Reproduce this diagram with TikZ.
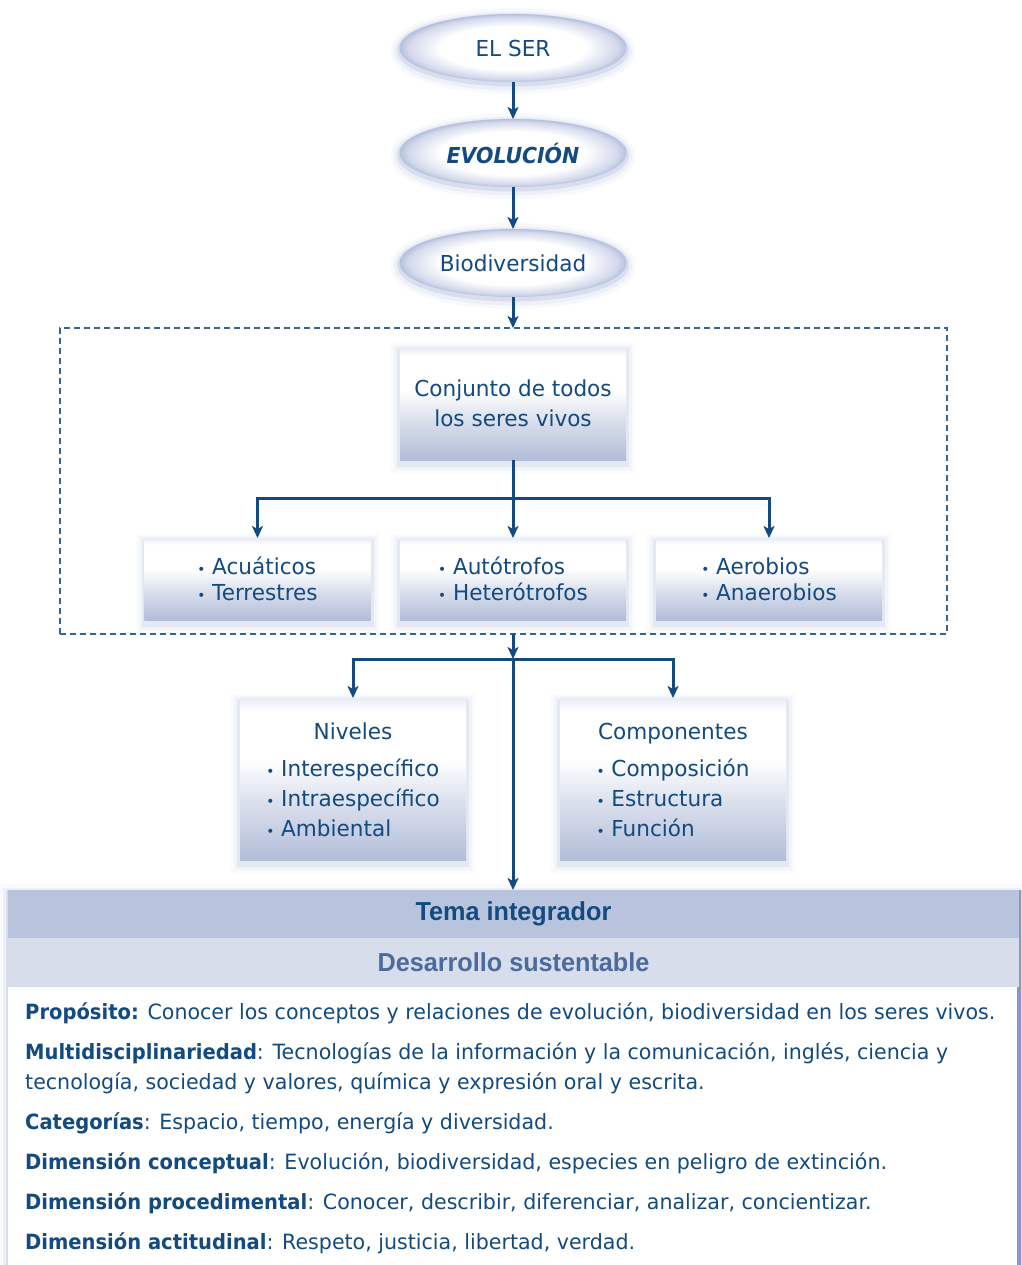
\documentclass[tikz,border=0pt]{standalone}
\usepackage{fontspec}
\setmainfont{DejaVu Sans}[UprightFeatures={FakeStretch=0.98}, BoldFeatures={FakeStretch=0.93},
  ItalicFeatures={FakeStretch=0.98}, BoldItalicFeatures={FakeStretch=0.93}]
\newfontfamily\angosta{Liberation Sans}[FakeStretch=0.97]
\usetikzlibrary{arrows.meta,shapes.geometric}

\definecolor{azul}{HTML}{134A80}
\definecolor{brillo}{HTML}{9DABD3}
\definecolor{cajaazul}{HTML}{B2BDD8}
\definecolor{franja}{HTML}{B8C4DD}
\definecolor{franjaclara}{HTML}{D7DDEB}
\definecolor{azulmedio}{HTML}{4B6B9D}
\definecolor{borde}{HTML}{8798C4}

\pgfdeclareverticalshading{cajafondo}{100bp}{color(0bp)=(cajaazul); color(25bp)=(cajaazul); color(42bp)=(cajaazul!50); color(56bp)=(white); color(71bp)=(white); color(75bp)=(cajaazul!30); color(100bp)=(cajaazul!30)}
\pgfdeclareradialshading{elipsefondo}{\pgfpoint{0bp}{0bp}}{color(0bp)=(white); color(16bp)=(white); color(23bp)=(brillo!45); color(25bp)=(brillo!75); color(50bp)=(brillo!75)}

\newcommand{\vineta}{{\fontsize{14}{14}\selectfont•}\ }

\begin{document}
\begin{tikzpicture}[x=1pt,y=-1pt,
    font=\fontsize{22}{30}\selectfont, text=azul,
    flecha/.style={-{Stealth[length=12pt,width=11pt,inset=3pt]}, draw=azul, line width=3pt},
    halo/.style={preaction={draw=brillo, line width=18pt, opacity=0.07, transform canvas={yshift=-3pt}},
                 preaction={draw=brillo, line width=11pt, opacity=0.12, transform canvas={yshift=-3pt}},
                 preaction={draw=brillo, line width=5pt, opacity=0.25, transform canvas={yshift=-2pt}}},
    sombra/.style={preaction={draw=brillo, line width=18pt, opacity=0.05, transform canvas={yshift=-4pt}},
                   preaction={draw=brillo, line width=12pt, opacity=0.08, transform canvas={yshift=-4pt}},
                   preaction={draw=brillo!80!azul, line width=6pt, opacity=0.14, transform canvas={yshift=-4pt}}},
    elipse/.style={ellipse, halo, shading=elipsefondo, minimum width=227pt, minimum height=68pt, inner sep=0pt, outer sep=0pt},
    caja/.style={rectangle, sombra, shading=cajafondo, minimum width=226pt, inner sep=0pt, outer sep=0pt},
    linea/.style={anchor=west, inner sep=0pt, font=\fontsize{21}{30}\selectfont, align=left}]
  \useasboundingbox (0,0) rectangle (1021,1265);

  \node[elipse] (ser) at (513,48) {EL SER};
  \node[elipse] (evolucion) at (513,153) {\bfseries\itshape EVOLUCIÓN};
  \node[elipse] (bio) at (513,263) {Biodiversidad};
  \draw[flecha] (ser) -- (evolucion);
  \draw[flecha] (evolucion) -- (bio);

  \node[draw=azul!85, dash pattern=on 6pt off 4pt, line width=1.2pt, minimum width=887pt,
        minimum height=306pt, inner sep=0pt, outer sep=0pt] (grupo) at (503.5,481) {};
  \draw[flecha] (bio.south) -- (bio.south |- grupo.north);

  \node[caja, minimum height=113pt, align=center] (conjunto) at (513,403.5) {Conjunto de todos\\los seres vivos};
  \node[caja, minimum height=82pt, align=left, font=\fontsize{22}{26}\selectfont] (acuaticos) at (257.5,579) {\vineta Acuáticos\\\vineta Terrestres};
  \node[caja, minimum height=82pt, align=left, font=\fontsize{22}{26}\selectfont] (autotrofos) at (513,579) {\vineta Autótrofos\\\vineta Heterótrofos};
  \node[caja, minimum height=82pt, align=left, font=\fontsize{22}{26}\selectfont] (aerobios) at (769,579) {\vineta Aerobios\\\vineta Anaerobios};
  \coordinate (rama) at (513,498);
  \draw[azul, line width=3pt] (conjunto.south) -- (rama);
  \draw[flecha] (rama) -| (acuaticos.north);
  \draw[flecha] (rama) -- (autotrofos.north);
  \draw[flecha] (rama) -| (aerobios.north);

  \node[caja, minimum height=162pt, align=center] (niveles) at (353,779)
    {\rule{0pt}{26pt}Niveles\\[7pt]\begin{tabular}[t]{@{}l@{}}\vineta Interespecífico\\\vineta Intraespecífico\\\vineta Ambiental\end{tabular}};
  \node[caja, minimum height=162pt, align=center] (componentes) at (673,779)
    {\rule{0pt}{26pt}Componentes\\[7pt]\begin{tabular}[t]{@{}l@{}}\vineta Composición\\\vineta Estructura\\\vineta Función\end{tabular}};

  \path[fill=white, halo] (8,890) rectangle (1019,1270);
  \fill[borde] (1017,890) rectangle (1021,1270);
  \node[fill=franja, minimum width=1011pt, minimum height=48pt, inner sep=0pt, outer sep=0pt,
        font=\angosta\bfseries\fontsize{26}{26}\selectfont] (tema) at (513.5,914) {Tema integrador};
  \node[fill=franjaclara, minimum width=1011pt, minimum height=49pt, inner sep=0pt, outer sep=0pt,
        font=\angosta\bfseries\fontsize{26}{26}\selectfont, text=azulmedio] (desarrollo) at (513.5,962.5) {Desarrollo sustentable};

  \coordinate (cruce) at (513,659);
  \draw[flecha] (conjunto |- grupo.south) -- (cruce);
  \draw[flecha] (cruce) -- (cruce |- tema.north);
  \draw[flecha] (cruce) -| (niveles.north);
  \draw[flecha] (cruce) -| (componentes.north);

  \node[linea] (proposito) at (25,1013) {\textbf{Propósito:} Conocer los conceptos y relaciones de evolución, biodiversidad en los seres vivos.};
  \node[linea] (multi) at (25,1068) {\textbf{Multidisciplinariedad}: Tecnologías de la información y la comunicación, inglés, ciencia y\\tecnología, sociedad y valores, química y expresión oral y escrita.};
  \node[linea] (categorias) at (25,1123) {\textbf{Categorías}: Espacio, tiempo, energía y diversidad.};
  \node[linea] (conceptual) at (25,1163) {\textbf{Dimensión conceptual}: Evolución, biodiversidad, especies en peligro de extinción.};
  \node[linea] (procedimental) at (25,1203) {\textbf{Dimensión procedimental}: Conocer, describir, diferenciar, analizar, concientizar.};
  \node[linea] (actitudinal) at (25,1243) {\textbf{Dimensión actitudinal}: Respeto, justicia, libertad, verdad.};
\end{tikzpicture}
\end{document}
